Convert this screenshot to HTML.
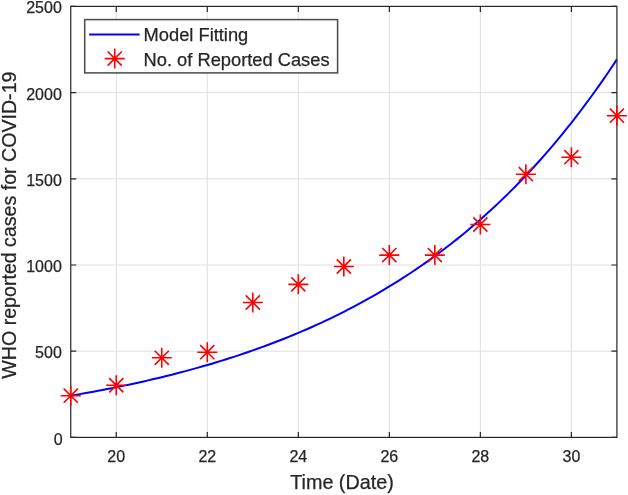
<!DOCTYPE html><html><head><meta charset="utf-8"><style>html,body{margin:0;padding:0;background:#fff;}svg{display:block;will-change:transform;}text{font-family:"Liberation Sans",sans-serif;fill:#262626;stroke:#262626;stroke-width:0.25px;}</style></head><body>
<svg width="628" height="495" viewBox="0 0 628 495">
<rect width="628" height="495" fill="#fff"/>
<g stroke="#dfdfdf" stroke-width="1"><line x1="116.26" y1="6.4" x2="116.26" y2="437.4"/><line x1="207.29" y1="6.4" x2="207.29" y2="437.4"/><line x1="298.31" y1="6.4" x2="298.31" y2="437.4"/><line x1="389.34" y1="6.4" x2="389.34" y2="437.4"/><line x1="480.36" y1="6.4" x2="480.36" y2="437.4"/><line x1="571.39" y1="6.4" x2="571.39" y2="437.4"/><line x1="70.75" y1="351.20" x2="616.9" y2="351.20"/><line x1="70.75" y1="265.00" x2="616.9" y2="265.00"/><line x1="70.75" y1="178.80" x2="616.9" y2="178.80"/><line x1="70.75" y1="92.60" x2="616.9" y2="92.60"/></g>
<path d="M70.75,395.68 L75.30,394.91 L79.85,394.12 L84.40,393.32 L88.95,392.50 L93.51,391.67 L98.06,390.82 L102.61,389.95 L107.16,389.08 L111.71,388.18 L116.26,387.27 L120.81,386.34 L125.36,385.39 L129.92,384.43 L134.47,383.45 L139.02,382.45 L143.57,381.43 L148.12,380.39 L152.67,379.33 L157.22,378.26 L161.77,377.16 L166.33,376.04 L170.88,374.91 L175.43,373.75 L179.98,372.57 L184.53,371.37 L189.08,370.14 L193.63,368.89 L198.19,367.62 L202.74,366.33 L207.29,365.01 L211.84,363.67 L216.39,362.30 L220.94,360.91 L225.49,359.49 L230.04,358.05 L234.60,356.58 L239.15,355.08 L243.70,353.56 L248.25,352.00 L252.80,350.42 L257.35,348.81 L261.90,347.16 L266.45,345.49 L271.00,343.79 L275.56,342.05 L280.11,340.28 L284.66,338.48 L289.21,336.65 L293.76,334.78 L298.31,332.88 L302.86,330.94 L307.41,328.97 L311.97,326.96 L316.52,324.91 L321.07,322.83 L325.62,320.70 L330.17,318.54 L334.72,316.34 L339.27,314.09 L343.82,311.81 L348.38,309.48 L352.93,307.11 L357.48,304.69 L362.03,302.23 L366.58,299.73 L371.13,297.18 L375.68,294.58 L380.24,291.93 L384.79,289.23 L389.34,286.48 L393.89,283.69 L398.44,280.84 L402.99,277.94 L407.54,274.98 L412.09,271.97 L416.65,268.90 L421.20,265.78 L425.75,262.60 L430.30,259.36 L434.85,256.06 L439.40,252.70 L443.95,249.27 L448.50,245.78 L453.05,242.23 L457.61,238.61 L462.16,234.93 L466.71,231.18 L471.26,227.35 L475.81,223.46 L480.36,219.49 L484.91,215.45 L489.46,211.34 L494.02,207.15 L498.57,202.88 L503.12,198.53 L507.67,194.11 L512.22,189.60 L516.77,185.00 L521.32,180.32 L525.88,175.56 L530.43,170.70 L534.98,165.76 L539.53,160.73 L544.08,155.60 L548.63,150.37 L553.18,145.05 L557.73,139.63 L562.29,134.11 L566.84,128.49 L571.39,122.76 L575.94,116.93 L580.49,110.99 L585.04,104.94 L589.59,98.78 L594.14,92.50 L598.70,86.11 L603.25,79.60 L607.80,72.96 L612.35,66.21 L616.90,59.33" fill="none" stroke="#0000ff" stroke-width="2" stroke-linejoin="round"/>
<path d="M116.26,437.4V431.9M116.26,6.4V11.9M207.29,437.4V431.9M207.29,6.4V11.9M298.31,437.4V431.9M298.31,6.4V11.9M389.34,437.4V431.9M389.34,6.4V11.9M480.36,437.4V431.9M480.36,6.4V11.9M571.39,437.4V431.9M571.39,6.4V11.9M70.75,437.40H76.25M616.9,437.40H611.4M70.75,351.20H76.25M616.9,351.20H611.4M70.75,265.00H76.25M616.9,265.00H611.4M70.75,178.80H76.25M616.9,178.80H611.4M70.75,92.60H76.25M616.9,92.60H611.4M70.75,6.40H76.25M616.9,6.40H611.4" stroke="#262626" stroke-width="1.2" fill="none"/>
<rect x="70.75" y="6.4" width="546.15" height="431.0" fill="none" stroke="#262626" stroke-width="1.2"/>
<path d="M60.75,395.70H80.75M70.75,385.70V405.70M63.68,388.63L77.82,402.77M63.68,402.77L77.82,388.63M106.26,385.25H126.26M116.26,375.25V395.25M109.19,378.18L123.33,392.32M109.19,392.32L123.33,378.18M151.77,357.80H171.77M161.77,347.80V367.80M154.70,350.73L168.85,364.87M154.70,364.87L168.85,350.73M197.29,352.20H217.29M207.29,342.20V362.20M200.22,345.13L214.36,359.27M200.22,359.27L214.36,345.13M242.80,302.50H262.80M252.80,292.50V312.50M245.73,295.43L259.87,309.57M245.73,309.57L259.87,295.43M288.31,284.35H308.31M298.31,274.35V294.35M291.24,277.28L305.38,291.42M291.24,291.42L305.38,277.28M333.82,266.50H353.82M343.82,256.50V276.50M336.75,259.43L350.90,273.57M336.75,273.57L350.90,259.43M379.34,255.10H399.34M389.34,245.10V265.10M382.27,248.03L396.41,262.17M382.27,262.17L396.41,248.03M424.85,255.10H444.85M434.85,245.10V265.10M427.78,248.03L441.92,262.17M427.78,262.17L441.92,248.03M470.36,224.50H490.36M480.36,214.50V234.50M473.29,217.43L487.43,231.57M473.29,231.57L487.43,217.43M515.88,174.20H535.88M525.88,164.20V184.20M518.80,167.13L532.95,181.27M518.80,181.27L532.95,167.13M561.39,157.20H581.39M571.39,147.20V167.20M564.32,150.13L578.46,164.27M564.32,164.27L578.46,150.13M606.90,115.70H626.90M616.90,105.70V125.70M609.83,108.63L623.97,122.77M609.83,122.77L623.97,108.63" stroke="#ff0000" stroke-width="1.6" fill="none"/>
<text x="62.60" y="444.80" font-size="16" text-anchor="end">0</text>
<text x="61.80" y="357.90" font-size="16" text-anchor="end">500</text>
<text x="61.80" y="271.70" font-size="16" text-anchor="end">1000</text>
<text x="61.80" y="185.50" font-size="16" text-anchor="end">1500</text>
<text x="61.80" y="100.20" font-size="16" text-anchor="end">2000</text>
<text x="61.80" y="13.10" font-size="16" text-anchor="end">2500</text>
<text x="116.26" y="461.6" font-size="16" text-anchor="middle">20</text>
<text x="207.29" y="461.6" font-size="16" text-anchor="middle">22</text>
<text x="298.31" y="461.6" font-size="16" text-anchor="middle">24</text>
<text x="389.34" y="461.6" font-size="16" text-anchor="middle">26</text>
<text x="480.36" y="461.6" font-size="16" text-anchor="middle">28</text>
<text x="571.39" y="461.6" font-size="16" text-anchor="middle">30</text>
<text x="342.0" y="488.7" font-size="19.8" text-anchor="middle">Time (Date)</text>
<text transform="translate(16.3,225.1) rotate(-90)" x="0" y="0" font-size="19.6" text-anchor="middle">WHO reported cases for COVID-19</text>
<rect x="84.7" y="19.6" width="252.9" height="53.3" fill="#fff" stroke="#4a4a4a" stroke-width="1.5"/>
<line x1="89.2" y1="34.5" x2="139.6" y2="34.5" stroke="#0000ff" stroke-width="2"/>
<path d="M104.70,58.60H124.70M114.70,48.60V68.60M107.63,51.53L121.77,65.67M107.63,65.67L121.77,51.53" stroke="#ff0000" stroke-width="1.6" fill="none"/>
<text x="143.6" y="41.1" font-size="18.3">Model Fitting</text>
<text x="143.6" y="65.6" font-size="18.3">No. of Reported Cases</text>
</svg></body></html>
